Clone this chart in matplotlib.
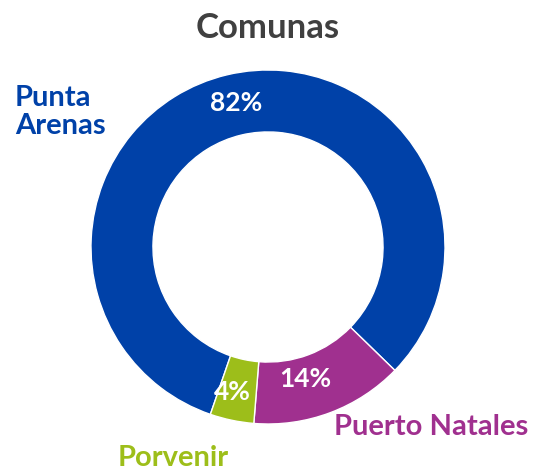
import matplotlib.pyplot as plt

# data
comunas = ['Punta Arenas', 'Puerto Natales', 'Porvenir']
shares = [82, 14, 4]
colores = ['#0041A8', '#A0308F', '#9DBE1A']
pct_labels = ['82%', '14%', '4%']

plt.rcParams['font.family'] = ['Lato', 'DejaVu Sans']

fig = plt.figure(figsize=(5.36, 4.72), dpi=100)
ax = fig.add_axes([0, 0, 1, 1])
ax.set_xlim(0, 536)
ax.set_ylim(0, 472)
ax.set_aspect('equal')
ax.axis('off')

H = 472  # pixel -> data y (y goes up)
cx, cy, r = 268, H - 247, 177

wedges, _ = ax.pie(shares, colors=colores, startangle=251, counterclock=False,
                   center=(cx, cy), radius=r,
                   wedgeprops=dict(width=r * 0.35, edgecolor='white', linewidth=1))
ax.set_xlim(0, 536)
ax.set_ylim(0, 472)

# percentage labels in the ring
pct_pos = [(236, 103), (305, 379), (232, 392)]
for txt, (x, y) in zip(pct_labels, pct_pos):
    ax.text(x, H - y, txt, color='white', fontsize=19, fontweight='bold',
            ha='center', va='center')

# category labels outside
ax.text(15, H - 112, 'Punta\nArenas', color=colores[0], fontsize=21, fontweight='bold',
        ha='left', va='center', linespacing=1.1)
ax.text(431, H - 427, comunas[1], color=colores[1], fontsize=21, fontweight='bold',
        ha='center', va='center')
ax.text(173, H - 458, comunas[2], color=colores[2], fontsize=21, fontweight='bold',
        ha='center', va='center')

ax.text(268, H - 28, 'Comunas', color='#404040', fontsize=25, fontweight='bold',
        ha='center', va='center')

fig.savefig('out.png', dpi=100)
